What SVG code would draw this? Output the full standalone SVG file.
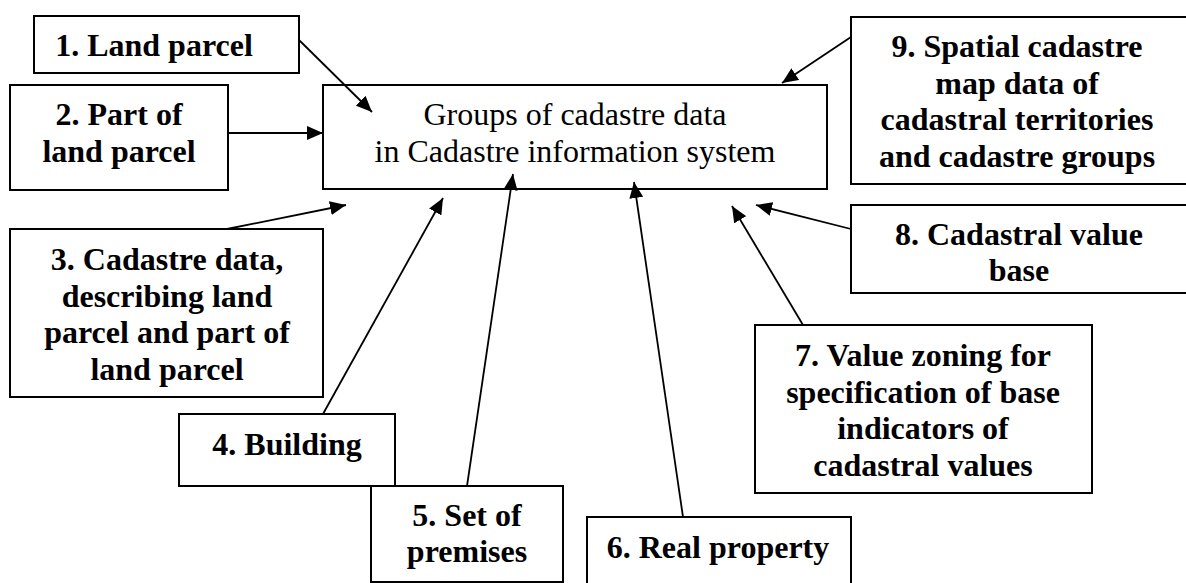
<svg xmlns="http://www.w3.org/2000/svg" width="1186" height="583" viewBox="0 0 1186 583">
  <style>
    .box { fill: #ffffff; stroke: #000000; stroke-width: 2; }
    .lbl { font-family: "Liberation Serif", "Times New Roman", serif; font-size: 32px; font-weight: bold; fill: #000000; text-anchor: middle; }
    .main { font-family: "Liberation Serif", "Times New Roman", serif; font-size: 32px; fill: #000000; text-anchor: middle; }
    .conn { stroke: #000000; stroke-width: 1.8; fill: none; marker-end: url(#arrow); }
  </style>
  <defs>
    <marker id="arrow" markerUnits="userSpaceOnUse" markerWidth="17" markerHeight="14" refX="16" refY="7" orient="auto">
      <path d="M0,0 L16,7 L0,14 z" fill="#000000"/>
    </marker>
  </defs>
  <rect width="1186" height="583" fill="#ffffff"/>

  <!-- central node -->
  <g id="node-center">
    <rect class="box" x="323" y="85" width="504" height="104"/>
    <text class="main" x="575" y="125">Groups of cadastre data</text>
    <text class="main" x="575" y="162">in Cadastre information system</text>
  </g>

  <g id="node-1">
    <rect class="box" x="34" y="16" width="265" height="57"/>
    <text class="lbl" x="154" y="56">1. Land parcel</text>
  </g>

  <g id="node-2">
    <rect class="box" x="10" y="85" width="218" height="105"/>
    <text class="lbl" x="119" y="125">2. Part of</text>
    <text class="lbl" x="119" y="162">land parcel</text>
  </g>

  <g id="node-3">
    <rect class="box" x="10" y="229" width="313" height="168"/>
    <text class="lbl" x="167" y="270">3. Cadastre data,</text>
    <text class="lbl" x="167" y="306.5">describing land</text>
    <text class="lbl" x="167" y="343">parcel and part of</text>
    <text class="lbl" x="167" y="379.5">land parcel</text>
  </g>

  <g id="node-4">
    <rect class="box" x="179" y="414" width="216" height="72"/>
    <text class="lbl" x="287" y="455">4. Building</text>
  </g>

  <g id="node-5">
    <rect class="box" x="371" y="486" width="192" height="96"/>
    <text class="lbl" x="467" y="526">5. Set of</text>
    <text class="lbl" x="467" y="562">premises</text>
  </g>

  <g id="node-6">
    <rect class="box" x="587" y="517" width="264" height="80"/>
    <text class="lbl" x="718" y="558">6. Real property</text>
  </g>

  <g id="node-7">
    <rect class="box" x="755" y="325" width="337" height="168"/>
    <text class="lbl" x="923" y="366">7. Value zoning for</text>
    <text class="lbl" x="923" y="402.5">specification of base</text>
    <text class="lbl" x="923" y="439">indicators of</text>
    <text class="lbl" x="923" y="475.5">cadastral values</text>
  </g>

  <g id="node-8">
    <rect class="box" x="851" y="205" width="345" height="88"/>
    <text class="lbl" x="1019" y="245">8. Cadastral value</text>
    <text class="lbl" x="1019" y="281">base</text>
  </g>

  <g id="node-9">
    <rect class="box" x="851" y="17" width="345" height="167"/>
    <text class="lbl" x="1017" y="57">9. Spatial cadastre</text>
    <text class="lbl" x="1017" y="93.5">map data of</text>
    <text class="lbl" x="1017" y="130">cadastral territories</text>
    <text class="lbl" x="1017" y="166.5">and cadastre groups</text>
  </g>

  <!-- connectors into the central node -->
  <g id="connectors">
    <line class="conn" x1="299" y1="40" x2="372" y2="112"/>
    <line class="conn" x1="228" y1="133" x2="323" y2="133"/>
    <line class="conn" x1="227" y1="229" x2="346" y2="205"/>
    <line class="conn" x1="323" y1="414" x2="443" y2="198"/>
    <line class="conn" x1="467" y1="486" x2="513" y2="174"/>
    <line class="conn" x1="683" y1="517" x2="634" y2="182"/>
    <line class="conn" x1="803" y1="325" x2="732" y2="206"/>
    <line class="conn" x1="851" y1="229" x2="756" y2="205"/>
    <line class="conn" x1="851" y1="37" x2="782" y2="83"/>
  </g>
</svg>
